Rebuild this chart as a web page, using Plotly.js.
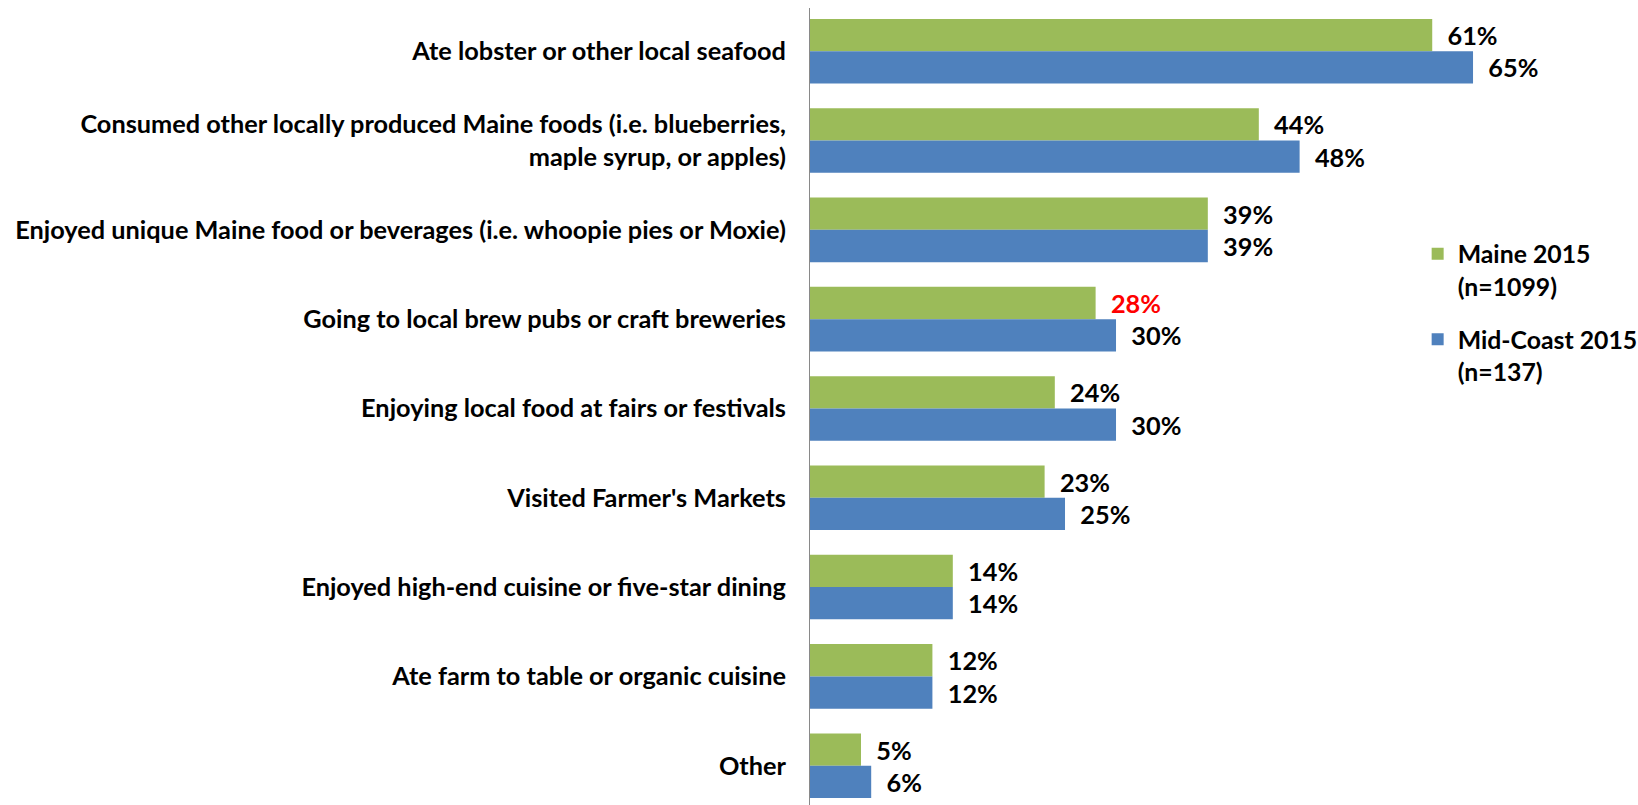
<!DOCTYPE html>
<html>
<head>
<meta charset="utf-8">
<script src="https://cdn.plot.ly/plotly-3.0.1.min.js"></script>
<style>html,body{margin:0;padding:0;background:#fff;}#chart{width:1638px;height:805px;}</style>
</head>
<body>
<div id="chart"></div>
<script>
const categories = [
  "Ate lobster or other local seafood",
  "Consumed other locally produced Maine foods (i.e. blueberries,<br>maple syrup, or apples)",
  "Enjoyed unique Maine food or beverages (i.e. whoopie pies or Moxie)",
  "Going to local brew pubs or craft breweries",
  "Enjoying local food at fairs or festivals",
  "Visited Farmer's Markets",
  "Enjoyed high-end cuisine or five-star dining",
  "Ate farm to table or organic cuisine",
  "Other"
];
const maine2015 = [61, 44, 39, 28, 24, 23, 14, 12, 5];
const midCoast2015 = [65, 48, 39, 30, 30, 25, 14, 12, 6];
const seriesNames = ["Maine 2015<br>(n=1099)", "Mid-Coast 2015<br>(n=137)"];
const maineLabelColors = ["#000", "#000", "#000", "#FF0000", "#000", "#000", "#000", "#000", "#000"];

const FONT = "Lato, 'Open Sans', sans-serif";
const FS = 25.3;
const pad = "\u00A0\u00A0";

const traces = [
  {
    type: "bar", orientation: "h", name: seriesNames[0], legendgroup: "a",
    x: maine2015, y: categories,
    marker: {color: "#9BBB59"},
    text: maine2015.map(v => pad + v + "%"), textposition: "outside", constraintext: "none", cliponaxis: false,
    textfont: {family: FONT, size: FS, weight: 700, color: maineLabelColors},
    hoverinfo: "skip"
  },
  {
    type: "bar", orientation: "h", name: seriesNames[1], legendgroup: "b",
    x: midCoast2015, y: categories,
    marker: {color: "#4F81BD"},
    text: midCoast2015.map(v => pad + v + "%"), textposition: "outside", constraintext: "none", cliponaxis: false,
    textfont: {family: FONT, size: FS, weight: 700, color: "#000"},
    hoverinfo: "skip"
  }
];

const layout = {
  width: 1638, height: 805,
  margin: {l: 810, r: 14, t: 8, b: 0, pad: 0, autoexpand: false},
  paper_bgcolor: "#fff", plot_bgcolor: "#fff",
  barmode: "group", bargap: 0.277, bargroupgap: 0,
  font: {family: FONT, size: FS, weight: 700, color: "#000"},
  xaxis: {range: [0, 79.8], showgrid: false, zeroline: false, showticklabels: false, showline: false, fixedrange: true},
  yaxis: {
    type: "category", range: [8.44, -0.484], autorange: false,
    showline: true, linecolor: "#898989", linewidth: 1,
    showgrid: false, zeroline: false,
    ticks: "outside", ticklen: 0, ticklabelstandoff: 18,
    tickfont: {family: FONT, size: FS, weight: 700, color: "#000"}
  },
  showlegend: true,
  legend: {
    x: 0.7465, y: 0.72, xanchor: "left", yanchor: "top",
    valign: "top", tracegroupgap: 18,
    font: {family: FONT, size: 24.8, weight: 700, color: "#000"},
    bgcolor: "rgba(0,0,0,0)"
  }
};

Plotly.newPlot("chart", traces, layout, {staticPlot: true, displayModeBar: false});
</script>
</body>
</html>
